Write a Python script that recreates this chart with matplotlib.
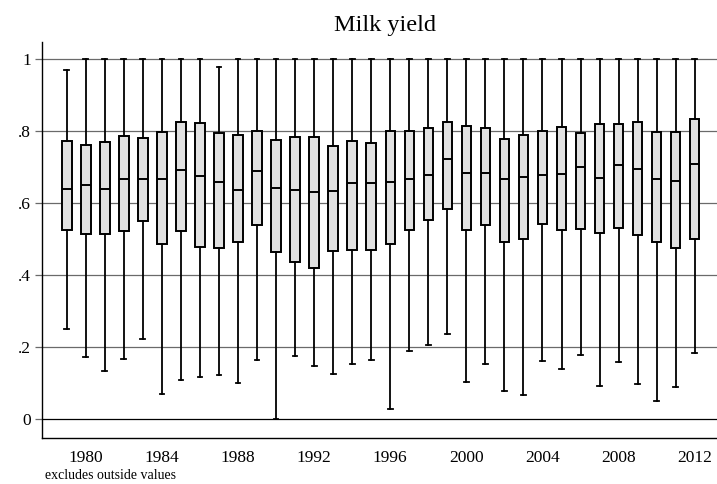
import numpy as np
import matplotlib.pyplot as plt

# Milk yield summary by year (box = quartiles, whiskers = adjacent values)
years = list(range(1979, 2013))
q1 = [0.527, 0.514, 0.516, 0.523, 0.550, 0.487, 0.523, 0.478, 0.476, 0.493, 0.540,
      0.464, 0.437, 0.421, 0.468, 0.470, 0.471, 0.486, 0.525, 0.554, 0.583, 0.526,
      0.540, 0.492, 0.500, 0.544, 0.525, 0.529, 0.517, 0.532, 0.512, 0.493, 0.476, 0.500]
median = [0.639, 0.651, 0.640, 0.668, 0.668, 0.668, 0.693, 0.676, 0.658, 0.636, 0.691,
          0.643, 0.636, 0.632, 0.635, 0.657, 0.657, 0.658, 0.668, 0.679, 0.722, 0.683,
          0.685, 0.668, 0.672, 0.678, 0.682, 0.701, 0.670, 0.706, 0.695, 0.668, 0.661, 0.709]
q3 = [0.773, 0.762, 0.771, 0.786, 0.782, 0.797, 0.827, 0.823, 0.796, 0.789, 0.801,
      0.776, 0.784, 0.784, 0.759, 0.773, 0.768, 0.801, 0.801, 0.808, 0.825, 0.815,
      0.808, 0.780, 0.790, 0.801, 0.811, 0.796, 0.821, 0.820, 0.825, 0.797, 0.798, 0.834]
lower = [0.252, 0.174, 0.134, 0.167, 0.224, 0.069, 0.110, 0.117, 0.124, 0.100, 0.164,
         0.001, 0.177, 0.149, 0.127, 0.155, 0.164, 0.028, 0.190, 0.206, 0.236, 0.105,
         0.153, 0.079, 0.068, 0.161, 0.140, 0.179, 0.093, 0.158, 0.099, 0.051, 0.090, 0.183]
upper = [0.971, 1.0, 1.0, 1.0, 1.0, 1.0, 1.0, 1.0, 0.979, 1.0, 1.0,
         1.0, 1.0, 1.0, 1.0, 1.0, 1.0, 1.0, 1.0, 1.0, 1.0, 1.0,
         1.0, 1.0, 1.0, 1.0, 1.0, 1.0, 1.0, 1.0, 1.0, 1.0, 1.0, 1.0]

xticks = [1980, 1984, 1988, 1992, 1996, 2000, 2004, 2008, 2012]
yticks = [0, 0.2, 0.4, 0.6, 0.8, 1.0]
ylabels = ['0', '.2', '.4', '.6', '.8', '1']

plt.rcParams['font.family'] = ['Liberation Serif', 'DejaVu Serif']

fig = plt.figure(figsize=(7.17, 4.84), dpi=100)
ax = fig.add_axes([0.0586, 0.0957, 0.9414, 0.8173])

stats = []
for i in range(len(years)):
    stats.append({'med': median[i], 'q1': q1[i], 'q3': q3[i],
                  'whislo': lower[i], 'whishi': upper[i], 'fliers': []})

for y in yticks:
    ax.axhline(y, color='black' if y == 0 else '#6a6a6a', lw=0.9, zorder=0)

ax.bxp(stats, positions=years, widths=0.5, patch_artist=True, showfliers=False,
       boxprops=dict(facecolor='#e1e1e1', edgecolor='black', linewidth=1.4),
       medianprops=dict(color='black', linewidth=1.4),
       whiskerprops=dict(color='black', linewidth=1.3),
       capprops=dict(color='black', linewidth=1.3), capwidths=0.25)

ax.set_xlim(1977.7, 2013.17)
ax.set_ylim(-0.051, 1.048)

ax.set_xticks(xticks)
ax.set_xticklabels([str(x) for x in xticks])
ax.set_yticks(yticks)
ax.set_yticklabels(ylabels)
ax.tick_params(axis='x', length=0, pad=9, labelsize=12.5)
ax.tick_params(axis='y', length=5, width=0.9, pad=3, labelsize=12.5, color='#6a6a6a')

for side in ['top', 'right']:
    ax.spines[side].set_visible(False)
ax.spines['left'].set_linewidth(1.0)
ax.spines['bottom'].set_linewidth(1.0)

fig.text(0.537, 0.948, 'Milk yield', ha='center', va='center', fontsize=17.5)
fig.text(0.063, 0.004, 'excludes outside values', ha='left', va='bottom', fontsize=10)

fig.savefig('out.png', dpi=100)
